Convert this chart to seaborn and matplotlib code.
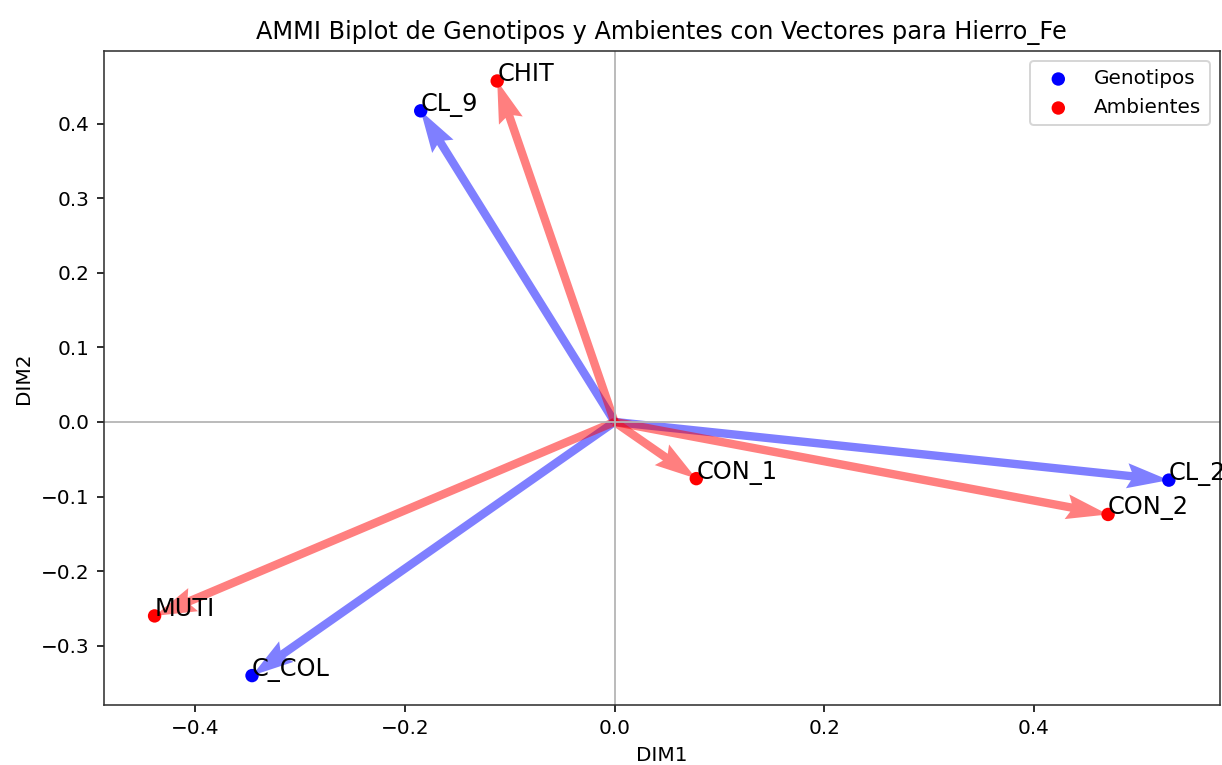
import numpy as np
import pandas as pd
import seaborn as sns
import matplotlib
matplotlib.use("Agg")
import matplotlib.pyplot as plt

genotipos = ["CL_9", "CL_2", "C_COL"]
gen_dim1 = [-0.185, 0.529, -0.346]
gen_dim2 = [0.417, -0.078, -0.340]

ambientes = ["CHIT", "CON_1", "CON_2", "MUTI"]
amb_dim1 = [-0.112, 0.078, 0.471, -0.439]
amb_dim2 = [0.457, -0.076, -0.124, -0.260]

df_gen = pd.DataFrame({"DIM1": gen_dim1, "DIM2": gen_dim2, "nombre": genotipos})
df_amb = pd.DataFrame({"DIM1": amb_dim1, "DIM2": amb_dim2, "nombre": ambientes})

DPI = 144
fig, ax = plt.subplots(figsize=(1222 / DPI, 765 / DPI), dpi=DPI)
fig.subplots_adjust(left=0.085, right=0.998, top=0.933, bottom=0.078)

# vectores desde el origen
ax.quiver(np.zeros(len(df_gen)), np.zeros(len(df_gen)), df_gen["DIM1"], df_gen["DIM2"],
          angles="xy", scale_units="xy", scale=1, color="blue", alpha=0.5, width=0.0075)
ax.quiver(np.zeros(len(df_amb)), np.zeros(len(df_amb)), df_amb["DIM1"], df_amb["DIM2"],
          angles="xy", scale_units="xy", scale=1, color="red", alpha=0.5, width=0.0075)

sns.scatterplot(data=df_gen, x="DIM1", y="DIM2", color="blue", s=45, edgecolor="none",
                label="Genotipos", ax=ax, zorder=3)
sns.scatterplot(data=df_amb, x="DIM1", y="DIM2", color="red", s=45, edgecolor="none",
                label="Ambientes", ax=ax, zorder=3)

for _, r in df_gen.iterrows():
    ax.text(r["DIM1"], r["DIM2"], r["nombre"], fontsize=12, zorder=4)
for _, r in df_amb.iterrows():
    ax.text(r["DIM1"], r["DIM2"], r["nombre"], fontsize=12, zorder=4)

ax.axhline(0, color="#b5b5b5", lw=0.9)
ax.axvline(0, color="#b5b5b5", lw=0.9)

for sp in ax.spines.values():
    sp.set_color("#333333")

ax.set_title("AMMI Biplot de Genotipos y Ambientes con Vectores para Hierro_Fe", fontsize=12)
ax.set_xlabel("DIM1")
ax.set_ylabel("DIM2")
ax.legend(loc="upper right")

fig.savefig("out.png", dpi=DPI)
